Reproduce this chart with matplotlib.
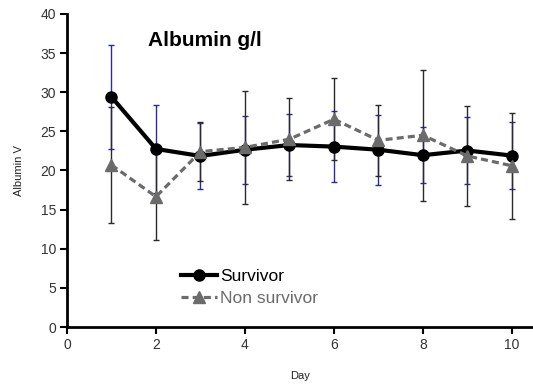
import matplotlib
matplotlib.use("Agg")
import matplotlib.pyplot as plt

days = [1, 2, 3, 4, 5, 6, 7, 8, 9, 10]
surv_mean = [29.4, 22.75, 21.85, 22.65, 23.25, 23.05, 22.65, 21.95, 22.55, 21.9]
surv_sd = [6.6, 5.65, 4.25, 4.35, 4.0, 4.5, 4.5, 3.55, 4.3, 4.3]
non_mean = [20.7, 16.65, 22.4, 22.95, 24.0, 26.55, 23.85, 24.5, 21.85, 20.6]
non_sd = [7.45, 5.55, 3.8, 7.2, 5.2, 5.25, 4.55, 8.35, 6.45, 6.75]
xticks = [0, 2, 4, 6, 8, 10]
yticks = [0, 5, 10, 15, 20, 25, 30, 35, 40]

plt.rcParams['font.family'] = ['Liberation Sans', 'DejaVu Sans']

fig = plt.figure(figsize=(5.33, 3.87), dpi=100)
ax = fig.add_axes([0.1257, 0.155, 0.874, 0.809])

gray = '#6b6b6b'
navy = '#2a2a9c'

ax.errorbar(days, surv_mean, yerr=surv_sd, fmt='none', ecolor=navy,
            elinewidth=1, capsize=2.5, capthick=1, zorder=2)
ax.errorbar(days, non_mean, yerr=non_sd, fmt='none', ecolor='#2a2a2a',
            elinewidth=1, capsize=2.5, capthick=1, zorder=2)

ax.plot(days, surv_mean, color='black', lw=3, marker='o', markersize=8,
        label='Survivor', zorder=3)
ax.plot(days, non_mean, color=gray, lw=2.3, ls=(0, (2.2, 1.3)), marker='^',
        markersize=9, label='Non survivor', zorder=4)

ax.set_xlim(0, 10.47)
ax.set_ylim(0, 40)
ax.set_xticks(xticks)
ax.set_yticks(yticks)

for s in ['top', 'right']:
    ax.spines[s].set_visible(False)
for s in ['left', 'bottom']:
    ax.spines[s].set_linewidth(2)
ax.tick_params(axis='both', direction='out', length=5, width=1.5,
               labelsize=10, labelcolor='#333333', pad=3)

ax.set_xlabel('Day', fontsize=8, color='#222222', labelpad=13.5)
ax.set_ylabel('Albumin V', fontsize=8, color='#222222', labelpad=12)

ax.text(1.82, 36.6, 'Albumin g/l', fontsize=15, fontweight='bold',
        va='center', ha='left')

leg = ax.legend(loc='upper left', bbox_to_anchor=(0.226, 0.212), frameon=False,
                fontsize=12.5, handlelength=2.1, handletextpad=0.15,
                labelspacing=0.35, borderpad=0, labelcolor=['black', gray])

fig.savefig('out.png', dpi=100)
